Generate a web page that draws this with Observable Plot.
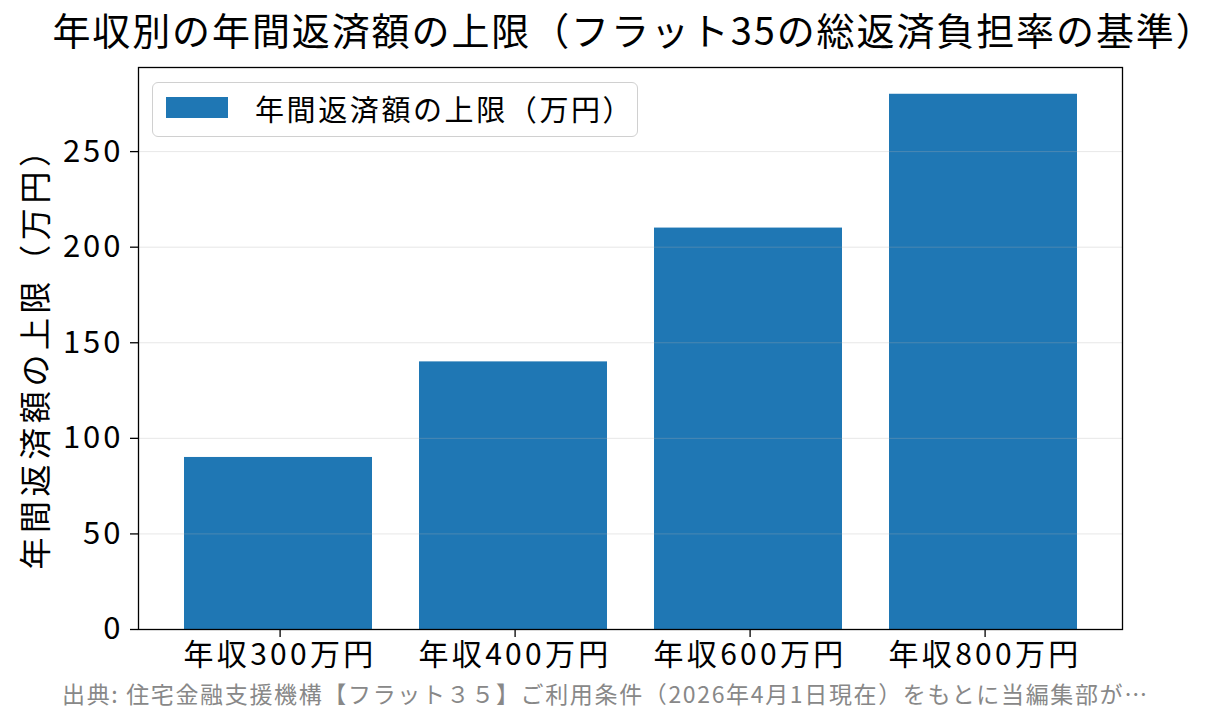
<!DOCTYPE html>
<html><head><meta charset="utf-8">
<script src="https://cdn.jsdelivr.net/npm/d3@7"></script>
<script src="https://cdn.jsdelivr.net/npm/@observablehq/plot@0.6"></script>
<style>
body{margin:0;background:#fff;font-family:"Noto Sans CJK JP","Noto Sans",sans-serif;}
#wrap{position:relative;width:1231px;height:725px;overflow:hidden;}
#title{position:absolute;left:13px;width:1242px;top:2px;text-align:center;font-size:38px;letter-spacing:1.9px;color:#000;line-height:54px;white-space:nowrap;}
#chart{position:absolute;left:0;top:62px;}
#legend{position:absolute;left:152px;top:82px;width:484px;height:53px;border:1.5px solid #d0d0d0;border-radius:6px;background:rgba(255,255,255,0.85);}
#legend .sw{position:absolute;left:13px;top:14px;width:62px;height:21px;background:#1f77b4;}
#legend .lb{position:absolute;left:102px;top:0;line-height:51px;font-size:29px;letter-spacing:2.6px;color:#000;white-space:nowrap;}
#ylabel{position:absolute;left:33px;top:350px;transform:translate(-50%,-50%) rotate(-90deg);font-size:32px;letter-spacing:4.6px;white-space:nowrap;color:#000;}
#caption{position:absolute;left:62px;top:678px;font-size:23px;letter-spacing:1.65px;color:#888;white-space:nowrap;line-height:30px;}
g[aria-label="y-axis tick label"] text{letter-spacing:3px;}
g[aria-label="x-axis tick label"] text{letter-spacing:3.3px;}
</style></head>
<body>
<div id="wrap">
<div id="title"></div>
<div id="chart"></div>
<div id="legend"><div class="sw"></div><div class="lb"></div></div>
<div id="ylabel"></div>
<div id="caption"></div>
</div>
<script>
const categories = ["年収300万円", "年収400万円", "年収600万円", "年収800万円"];
const annualRepaymentLimit = [90, 140, 210, 280];
const yTicks = [0, 50, 100, 150, 200, 250];
const titleText = "年収別の年間返済額の上限（フラット35の総返済負担率の基準）";
const seriesLabel = "年間返済額の上限（万円）";
const yLabelText = "年間返済額の上限（万円）";
const captionText = "出典: 住宅金融支援機構【フラット３５】ご利用条件（2026年4月1日現在）をもとに当編集部が…";

document.getElementById("title").textContent = titleText;
document.querySelector("#legend .lb").textContent = seriesLabel;
document.getElementById("ylabel").textContent = yLabelText;
document.getElementById("caption").textContent = captionText;

const data = categories.map((c, i) => ({category: c, value: annualRepaymentLimit[i]}));

const chart = Plot.plot({
  width: 1231,
  height: 618,
  marginLeft: 138,
  marginRight: 109,
  marginTop: 5,
  marginBottom: 51,
  style: {fontFamily: '"Noto Sans CJK JP","Noto Sans",sans-serif', fontSize: "30px", color: "#000", background: "transparent"},
  x: {domain: categories, paddingInner: 0.2, paddingOuter: 0.19, label: null},
  y: {domain: [0, 294], label: null},
  marks: [
    Plot.barY(data, {x: "category", y: "value", fill: "#1f77b4"}),
    Plot.gridY(yTicks, {stroke: "#b0b0b0", strokeOpacity: 0.3, strokeWidth: 1}),
    Plot.axisY(yTicks, {tickSize: 8, tickPadding: 7, fontSize: 31, stroke: "#000", strokeWidth: 1.3, label: null}),
    Plot.axisX({tickSize: 8, tickPadding: 6, fontSize: 30, dx: 1.6, stroke: "#000", strokeWidth: 1.3, label: null}),
    Plot.frame({stroke: "#000", strokeWidth: 1.3})
  ]
});
document.getElementById("chart").appendChild(chart);
</script>
</body></html>
